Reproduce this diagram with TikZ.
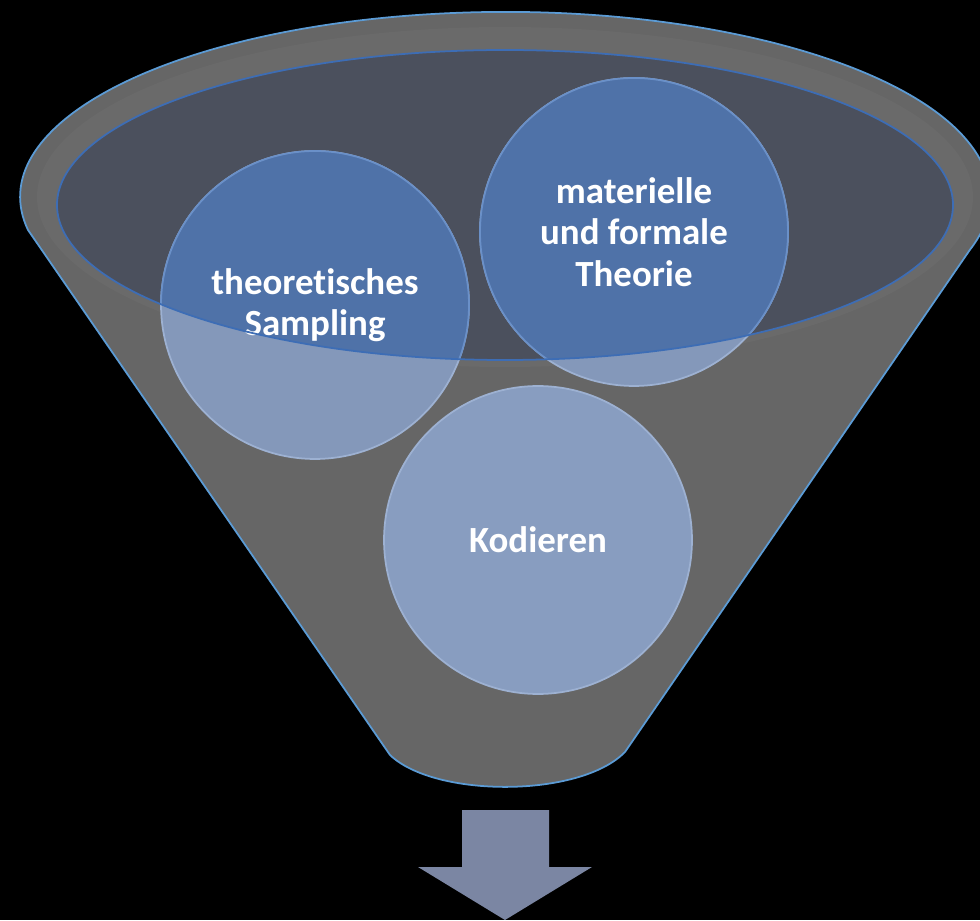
\documentclass[tikz,border=0pt]{standalone}
\usepackage{fontspec}
\setmainfont{Carlito}[Ligatures=NoCommon]
\definecolor{funnelgray}{HTML}{666666}
\definecolor{bandgray}{HTML}{6A6A6A}
\definecolor{basin}{HTML}{4B505D}
\definecolor{bublight}{HTML}{8498BA}
\definecolor{kodlight}{HTML}{889DC0}
\definecolor{bubrim}{HTML}{9DB1D2}
\definecolor{bubdark}{HTML}{4F72A8}
\definecolor{bubdarkrim}{HTML}{6A90C8}
\definecolor{edgeblue}{HTML}{5B9BD5}
\definecolor{rimblue}{HTML}{3D6DB5}
\definecolor{arrowgray}{HTML}{7B86A3}
\begin{document}
\begin{tikzpicture}[x=0.02cm,y=0.02cm,
  bubble/.style={circle,minimum size=6.16cm,inner sep=0pt,fill=bublight,draw=bubrim,line width=1pt},
  deep/.style={fill=bubdark,draw=bubdarkrim,line width=1pt},
  word/.style={text=white,font=\bfseries\fontsize{21}{23.5}\selectfont,align=center}]
\fill[black] (0,0) rectangle (980,920);
\clip (0,0) rectangle (980,920);
\path[fill=funnelgray,draw=edgeblue,line width=1pt] (28,690) arc[start angle=190.3,end angle=-16.6,x radius=485,y radius=185] -- (625,168) .. controls (580,122) and (435,122) .. (390,165) -- cycle;
\coordinate (top) at (505,723);
\coordinate (rim) at (505,715);
\fill[bandgray] (top) ellipse[x radius=468,y radius=170];
\fill[basin] (rim) ellipse[x radius=448,y radius=155];
\node[bubble] (samp) at (315,615) {};
\node[bubble] (theo) at (634,688) {};
\node[bubble,fill=kodlight] (kod) at (538,380) {};
\begin{scope}
\clip (rim) ellipse[x radius=448,y radius=155];
\foreach \b in {samp,theo}
  \filldraw[deep] (\b.center) circle[radius=154];
\end{scope}
\node[word] at (samp) {theoretisches\\Sampling};
\node[word] at (theo) {materielle\\und formale\\Theorie};
\node[word] at (kod) {Kodieren};
\draw[rimblue,line width=1pt] (rim) ellipse[x radius=448,y radius=155];
\fill[arrowgray] (462,110) -- (549,110) -- (549,53) -- (592,53) -- (505,0) -- (418,53) -- (462,53) -- cycle;
\end{tikzpicture}
\end{document}
